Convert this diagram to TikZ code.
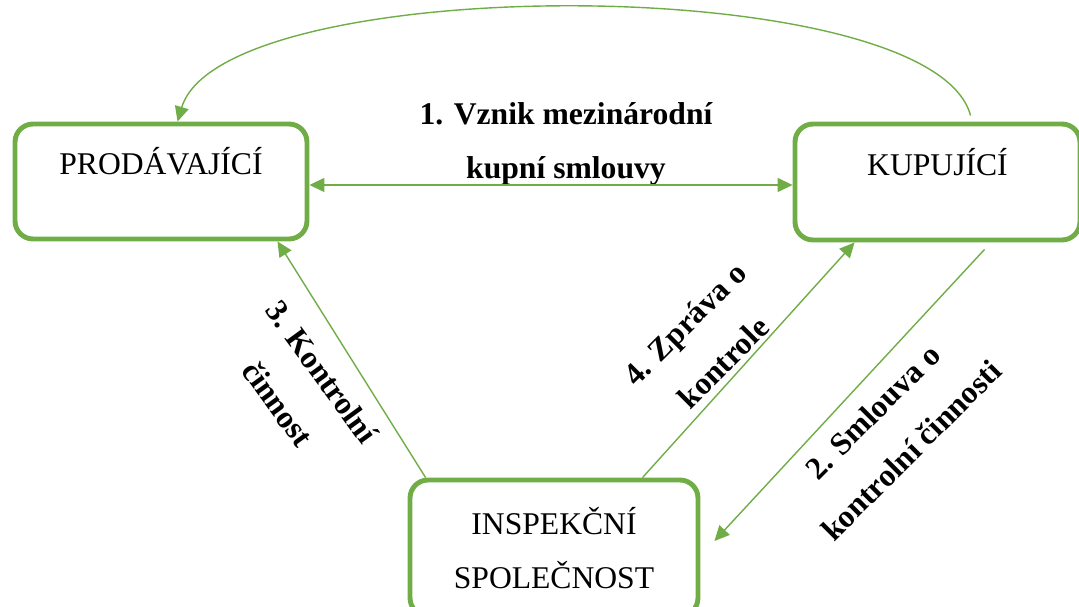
\documentclass[tikz,border=0pt]{standalone}
\usepackage{fontspec}
\setmainfont{Liberation Serif}
\usepackage{tikz}
\usetikzlibrary{positioning,arrows.meta,calc}
\definecolor{leaf}{HTML}{70AD47}

\begin{document}
\begin{tikzpicture}[
  x=0.02cm,y=-0.02cm,
  font=\fontsize{18}{31}\selectfont,
  box/.style={draw=leaf,line width=2.8pt,rounded corners=0.36cm,align=center,inner sep=0pt},
  party/.style={box,text height=0.4cm,text depth=0.66cm},
  arr/.style={>={Triangle[length=0.3cm,width=0.28cm]},->,line width=0.8pt,draw=leaf},
  lbl/.style={font=\fontsize{18}{31}\selectfont\bfseries,align=center}]
  \useasboundingbox (0,0) rectangle (1079,607);
  \node[party,minimum width=5.84cm,minimum height=2.3cm] (prod) at (161,181.5) {PRODÁVAJÍCÍ};
  \node[party,minimum width=5.7cm,minimum height=2.32cm] (kup) at (937.5,182) {KUPUJÍCÍ};
  \node[box,minimum width=5.76cm,minimum height=2.72cm] (insp) at (554,548) {INSPEKČNÍ\\SPOLEČNOST};

  \node[lbl] (l1) at (566,144) {1. Vznik mezinárodní\\kupní smlouvy};
  \node[lbl,rotate=-54] (l3) at (300,388) {3. Kontrolní\\činnost};
  \node[lbl,rotate=45] (l4) at (704,343) {4. Zpráva o\\kontrole};
  \node[lbl,rotate=45] (l2) at (892,431) {2. Smlouva o\\kontrolní činnosti};

  \draw[arr] ([xshift=3.56cm,yshift=0.12cm]kup.north west) .. controls +(-38,-145) and +(45,-151) .. ([xshift=3.3cm]prod.north west);
  \draw[arr,<->] ([yshift=-0.07cm]prod.east) -- ([yshift=-0.07cm]prod.east -| kup.west);
  \draw[arr] ([xshift=0.36cm]insp.north west) -- ([xshift=5.3cm]prod.south west);
  \draw[arr] ([xshift=4.7cm]insp.north west) -- ([xshift=1.24cm]kup.south west);
  \draw[arr] ([xshift=3.84cm,yshift=-0.14cm]kup.south west) -- ([xshift=0.28cm,yshift=0.14cm]insp.east);
\end{tikzpicture}
\end{document}
